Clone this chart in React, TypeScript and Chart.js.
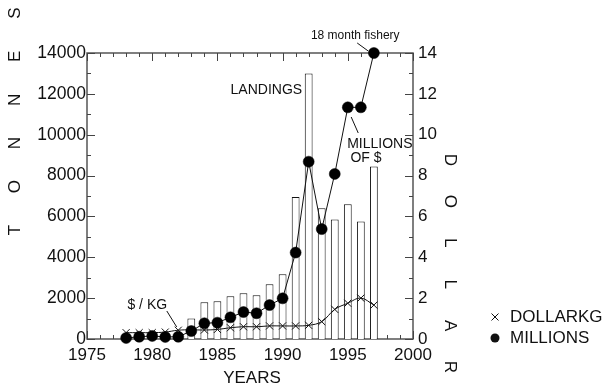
import React, { useEffect, useRef } from "react";
import { Chart, registerables } from "chart.js";

Chart.register(...registerables);

const lineYears = [1978, 1979, 1980, 1981, 1982, 1983, 1984, 1985, 1986, 1987, 1988, 1989, 1990, 1991, 1992, 1993, 1994, 1995, 1996, 1997];
const millions = [0.05, 0.11, 0.15, 0.1, 0.11, 0.39, 0.77, 0.8, 1.06, 1.32, 1.26, 1.66, 1.99, 4.23, 8.68, 5.38, 8.08, 11.34, 11.34, 14.0];
const dollarKg = [0.31, 0.31, 0.31, 0.34, 0.43, 0.45, 0.44, 0.47, 0.55, 0.6, 0.6, 0.64, 0.64, 0.64, 0.67, 0.85, 1.45, 1.75, 2.0, 1.66];
const landingYears = [1983, 1984, 1985, 1986, 1987, 1988, 1989, 1990, 1991, 1992, 1993, 1994, 1995, 1996, 1997];
const landings = [1000, 1800, 1850, 2090, 2240, 2140, 2680, 3170, 6950, 13000, 6400, 5850, 6600, 5750, 8450];

const xTitle = "YEARS";
const leftTitle = "TONNES";
const rightTitle = "DOLLAR";

const FONT = "'Liberation Sans', Arial, Helvetica, sans-serif";

// annotation texts anchored in data coordinates (year, tonnes)
const notes = [
  { text: "18 month fishery", x: 1995.57, y: 14832, align: "center", size: 12 },
  { text: "LANDINGS", x: 1991.5, y: 12189, align: "right", size: 14 },
  { text: "MILLIONS", x: 1994.95, y: 9545, align: "left", size: 14 },
  { text: "OF $", x: 1995.2, y: 8860, align: "left", size: 14 },
  { text: "$ / KG", x: 1978.1, y: 1664, align: "left", size: 14 },
];
const leaders = [
  [1995.72, 14490, 1996.56, 14099],
  [1995.26, 10867, 1995.8, 10084],
  [1981.12, 1371, 1981.88, 587],
];

const framePlugin = {
  id: "framePlugin",
  beforeDatasetsDraw(chart: any) {
    const ctx = chart.ctx;
    const { left, right, top, bottom } = chart.chartArea;
    const xs = chart.scales.x;
    const yl = chart.scales.y;
    const yr = chart.scales.y1;
    ctx.save();
    ctx.strokeStyle = "#555";
    ctx.lineWidth = 1.5;
    ctx.strokeRect(left, top, right - left, bottom - top);
    ctx.lineWidth = 1;
    ctx.strokeStyle = "#444";
    ctx.beginPath();
    for (let yv = 1975; yv <= 2000; yv++) {
      const px = Math.round(xs.getPixelForValue(yv)) + 0.5;
      const len = yv % 5 === 0 ? 8 : 4;
      ctx.moveTo(px, bottom);
      ctx.lineTo(px, bottom - len);
      ctx.moveTo(px, top);
      ctx.lineTo(px, top + len);
    }
    for (let v = 0; v <= 14000; v += 1000) {
      const py = Math.round(yl.getPixelForValue(v)) + 0.5;
      const len = v % 2000 === 0 ? 8 : 4;
      ctx.moveTo(left, py);
      ctx.lineTo(left + len, py);
    }
    for (let v = 0; v <= 14; v += 1) {
      const py = Math.round(yr.getPixelForValue(v)) + 0.5;
      const len = v % 2 === 0 ? 8 : 4;
      ctx.moveTo(right, py);
      ctx.lineTo(right - len, py);
    }
    ctx.stroke();
    ctx.restore();
  },
  afterDraw(chart: any) {
    const ctx = chart.ctx;
    const { left, right } = chart.chartArea;
    const xs = chart.scales.x;
    const yl = chart.scales.y;
    ctx.save();
    ctx.fillStyle = "#111";
    ctx.strokeStyle = "#111";
    ctx.textBaseline = "middle";
    // x title
    ctx.font = `17px ${FONT}`;
    ctx.textAlign = "center";
    ctx.fillText(xTitle, (left + right) / 2 + 2, 378);
    // left title, spaced letters reading bottom to top
    for (let i = 0; i < leftTitle.length; i++) {
      ctx.save();
      ctx.translate(15, 230 - i * 43.4);
      ctx.rotate(-Math.PI / 2);
      ctx.fillText(leftTitle[i], 0, 0);
      ctx.restore();
    }
    // right title, reading top to bottom
    for (let i = 0; i < rightTitle.length; i++) {
      ctx.save();
      ctx.translate(450, 160 + i * 41.4);
      ctx.rotate(Math.PI / 2);
      ctx.fillText(rightTitle[i], 0, 0);
      ctx.restore();
    }
    // annotations
    for (const n of notes) {
      ctx.font = `${n.size}px ${FONT}`;
      ctx.textAlign = n.align as CanvasTextAlign;
      ctx.fillText(n.text, xs.getPixelForValue(n.x), yl.getPixelForValue(n.y));
    }
    ctx.lineWidth = 1;
    ctx.beginPath();
    for (const l of leaders) {
      ctx.moveTo(xs.getPixelForValue(l[0]), yl.getPixelForValue(l[1]));
      ctx.lineTo(xs.getPixelForValue(l[2]), yl.getPixelForValue(l[3]));
    }
    ctx.stroke();
    // legend
    const items = chart.data.datasets.filter((d: any) => d.type === "line");
    ctx.font = `17px ${FONT}`;
    ctx.textAlign = "left";
    items.forEach((d: any, i: number) => {
      const cy = 317 + i * 21;
      const cx = 495;
      ctx.beginPath();
      if (d.pointStyle === "crossRot") {
        ctx.moveTo(cx - 3.5, cy - 3.5);
        ctx.lineTo(cx + 3.5, cy + 3.5);
        ctx.moveTo(cx + 3.5, cy - 3.5);
        ctx.lineTo(cx - 3.5, cy + 3.5);
        ctx.stroke();
      } else {
        ctx.arc(cx, cy, 4.5, 0, Math.PI * 2);
        ctx.fill();
      }
      ctx.fillText(d.label, 510, cy);
    });
    ctx.restore();
  },
};

const noGrid = { display: false, drawTicks: false, tickLength: 0 };

export default function App() {
  const ref = useRef<HTMLCanvasElement | null>(null);
  useEffect(() => {
    if (!ref.current) return;
    const chart = new Chart(ref.current, {
      type: "line",
      data: {
        datasets: [
          {
            type: "line",
            label: "DOLLARKG",
            data: lineYears.map((y, i) => ({ x: y, y: dollarKg[i] })),
            yAxisID: "y1",
            borderColor: "#111",
            borderWidth: 1,
            pointStyle: "crossRot",
            pointRadius: 5,
            pointBorderColor: "#111",
            pointBorderWidth: 1,
            tension: 0.4,
            clip: false,
            order: 1,
          },
          {
            type: "line",
            label: "MILLIONS",
            data: lineYears.map((y, i) => ({ x: y, y: millions[i] })),
            yAxisID: "y1",
            borderColor: "#111",
            borderWidth: 1,
            pointStyle: "circle",
            pointRadius: 5.5,
            pointBorderWidth: 0.5,
            pointBackgroundColor: "#000",
            pointBorderColor: "#000",
            tension: 0,
            clip: false,
            order: 0,
          },
          {
            type: "bar",
            label: "LANDINGS",
            data: landingYears.map((y, i) => ({ x: y, y: landings[i] })),
            yAxisID: "y",
            backgroundColor: "#fff",
            borderColor: "#111",
            borderWidth: 1,
            barPercentage: 0.6,
            categoryPercentage: 1,
            order: 3,
          } as any,
        ],
      },
      options: {
        animation: false,
        responsive: true,
        maintainAspectRatio: false,
        layout: { padding: { top: 53, left: 0, right: 0, bottom: 0 } },
        plugins: { legend: { display: false }, tooltip: { enabled: false } },
        scales: {
          x: {
            type: "linear",
            min: 1975,
            max: 2000,
            offset: false,
            grid: noGrid,
            border: { display: false },
            ticks: {
              stepSize: 5,
              padding: 6,
              color: "#111",
              font: { family: FONT, size: 17 },
              callback: (v: any) => String(v),
              maxRotation: 0,
            },
            afterFit: (s: any) => {
              s.height = 51;
            },
          },
          y: {
            position: "left",
            min: 0,
            max: 14000,
            grid: noGrid,
            border: { display: false },
            ticks: {
              stepSize: 2000,
              padding: 1,
              color: "#111",
              font: { family: FONT, size: 17.5 },
              callback: (v: any) => String(v),
            },
            afterFit: (s: any) => {
              s.width = 87;
            },
          },
          y1: {
            position: "right",
            min: 0,
            max: 14,
            grid: noGrid,
            border: { display: false },
            ticks: {
              stepSize: 2,
              padding: 5,
              color: "#111",
              font: { family: FONT, size: 17 },
              callback: (v: any) => String(v),
            },
            afterFit: (s: any) => {
              s.width = 203;
            },
          },
        },
      } as any,
      plugins: [framePlugin],
    });
    return () => chart.destroy();
  }, []);
  return (
    <div style={{ position: "fixed", left: 0, top: 0, width: 616, height: 390, background: "#fff" }}>
      <canvas ref={ref} />
    </div>
  );
}
